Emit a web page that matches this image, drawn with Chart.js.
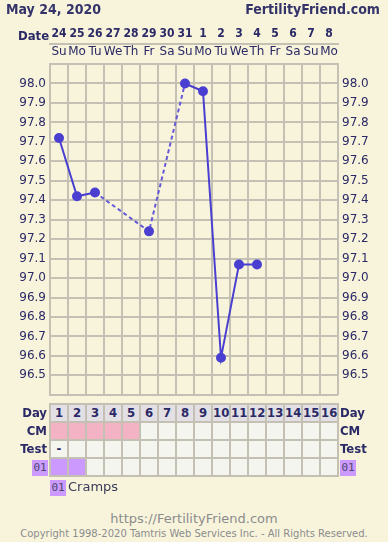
<!DOCTYPE html>
<html>
<head>
<meta charset="utf-8">
<script src="https://cdn.jsdelivr.net/npm/chart.js@4.4.1/dist/chart.umd.min.js"></script>
<style>
  body { margin: 0; background: #f8f4dc; width: 388px; height: 542px; overflow: hidden; position: relative; font-family: 'DejaVu Sans', sans-serif; }
  #myChart { position: absolute; left: 0; top: 0; }
  .hdr { position: absolute; top: 1px; font: bold 14px 'DejaVu Sans Condensed', 'DejaVu Sans', sans-serif; color: #34346a; }
  .lbl { position: absolute; font: bold 13px 'DejaVu Sans Condensed', 'DejaVu Sans', sans-serif; color: #2b2966; line-height: 18px; }
  #grid { position: absolute; left: 49px; top: 403px; background: #c4c0b4; }
  .cell { position: absolute; width: 16px; height: 16px; background: #f5f5ef; text-align: center; line-height: 16px; font: bold 13px 'DejaVu Sans Condensed', 'DejaVu Sans', sans-serif; color: #2b2966; }
  .code { position: absolute; background: #cc99ff; width: 16px; height: 16px; font: 11px 'DejaVu Sans Mono', monospace; color: #4a4a6a; text-align: center; line-height: 16px; }
  .foot { position: absolute; left: 0; width: 388px; text-align: center; color: #8c8c8c; }
</style>
</head>
<body>
<canvas id="myChart" width="388" height="406"></canvas>
<div class="hdr" style="left:6px">May 24, 2020</div>
<div class="hdr" style="right:8px">FertilityFriend.com</div>
<div class="lbl" style="left:18px; top:27px">Date</div>
<div id="grid"></div>
<div class="foot" style="top:511px; font-size:13px">https://FertilityFriend.com</div>
<div class="foot" style="top:528px; font-size:10px">Copyright 1998-2020 Tamtris Web Services Inc. - All Rights Reserved.</div>
<script>
// fechas y dias de la semana
var fechas = ['24', '25', '26', '27', '28', '29', '30', '31', '1', '2', '3', '4', '5', '6', '7', '8'];
var dias_semana = ['Su', 'Mo', 'Tu', 'We', 'Th', 'Fr', 'Sa', 'Su', 'Mo', 'Tu', 'We', 'Th', 'Fr', 'Sa', 'Su', 'Mo'];
var temperaturas = [97.72, 97.42, 97.44, null, null, 97.24, null, 98.00, 97.96, 96.59, 97.07, 97.07, null, null, null, null];
var dias_ciclo = ['1', '2', '3', '4', '5', '6', '7', '8', '9', '10', '11', '12', '13', '14', '15', '16'];
var ticks_temp = [98.1, 98.0, 97.9, 97.8, 97.7, 97.6, 97.5, 97.4, 97.3, 97.2, 97.1, 97.0, 96.9, 96.8, 96.7, 96.6, 96.5, 96.4];
var fila_cm = ['period', 'period', 'period', 'period', 'period', '', '', '', '', '', '', '', '', '', '', ''];
var fila_test = ['-', '', '', '', '', '', '', '', '', '', '', '', '', '', '', ''];
var fila_sintoma = ['01', '01', '', '', '', '', '', '', '', '', '', '', '', '', '', ''];
var sintomas = [{ codigo: '01', nombre: 'Cramps' }];

var colorGrid = '#c4c0b4';
var colorTexto = '#2b2966';

window.onload = function() {
    // tabla de abajo
    var grid = document.getElementById('grid');
    var filas = ['Day', 'CM', 'Test', sintomas[0].codigo];
    grid.style.width = (dias_ciclo.length * 18 + 2) + 'px';
    grid.style.height = (filas.length * 18 + 2) + 'px';
    for (var r = 0; r < filas.length; r++) {
        for (var c = 0; c < dias_ciclo.length; c++) {
            var cell = document.createElement('div');
            cell.className = 'cell';
            cell.style.left = (2 + c * 18) + 'px';
            cell.style.top = (2 + r * 18) + 'px';
            if (r == 0) {
                cell.style.background = '#e2e0e4';
                cell.textContent = dias_ciclo[c];
            } else if (r == 1) {
                if (fila_cm[c] == 'period') cell.style.background = '#f3b3c5';
            } else if (r == 2) {
                cell.textContent = fila_test[c];
            } else if (r == 3) {
                if (fila_sintoma[c]) cell.style.background = '#cc99ff';
            }
            grid.appendChild(cell);
        }
        var top = 405 + r * 18;
        if (r < 3) {
            var izq = document.createElement('div');
            izq.className = 'lbl';
            izq.textContent = filas[r];
            izq.style.right = (388 - 47) + 'px';
            izq.style.top = (top - 1) + 'px';
            document.body.appendChild(izq);
            var der = document.createElement('div');
            der.className = 'lbl';
            der.textContent = filas[r];
            der.style.left = '340px';
            der.style.top = (top - 1) + 'px';
            document.body.appendChild(der);
        } else {
            var b1 = document.createElement('div');
            b1.className = 'code';
            b1.textContent = filas[r];
            b1.style.left = '32px';
            b1.style.top = (top + 1) + 'px';
            document.body.appendChild(b1);
            var b2 = document.createElement('div');
            b2.className = 'code';
            b2.textContent = filas[r];
            b2.style.left = '340px';
            b2.style.top = (top + 1) + 'px';
            document.body.appendChild(b2);
        }
    }
    // leyenda
    var ley = document.createElement('div');
    ley.className = 'code';
    ley.textContent = sintomas[0].codigo;
    ley.style.left = '50px';
    ley.style.top = '480px';
    document.body.appendChild(ley);
    var ley2 = document.createElement('div');
    ley2.style.cssText = 'position:absolute;left:68px;top:479px;font:13px "DejaVu Sans",sans-serif;color:#3a3a5a';
    ley2.textContent = sintomas[0].nombre;
    document.body.appendChild(ley2);

    // tramo con huecos = linea punteada
    function saltado(s, valor) {
        return (s.p0.skip || s.p1.skip) ? valor : undefined;
    }

    var ctx = document.getElementById('myChart').getContext('2d');
    var myChart = new Chart(ctx, {
        type: 'line',
        data: {
            labels: fechas,
            datasets: [{
                data: temperaturas,
                xAxisID: 'x',
                yAxisID: 'y',
                borderColor: '#4a3fd0',
                backgroundColor: '#4a3fd0',
                borderWidth: 2,
                pointRadius: 4,
                pointHoverRadius: 4,
                spanGaps: true,
                segment: {
                    borderDash: function(s) { return saltado(s, [4, 3]); },
                    borderColor: function(s) { return saltado(s, '#6659d8'); }
                }
            }]
        },
        options: {
            responsive: false,
            animation: false,
            devicePixelRatio: 1,
            layout: { padding: { top: 22, left: 0, right: 0, bottom: 1 } },
            plugins: { legend: { display: false }, tooltip: { enabled: false } },
            scales: {
                x: {
                    type: 'category',
                    position: 'top',
                    weight: 2,
                    offset: true,
                    grid: { offset: true, color: colorGrid, lineWidth: 2, drawTicks: false },
                    border: { display: true, color: colorGrid, width: 2 },
                    ticks: { padding: 3, maxRotation: 0, autoSkip: false, color: colorTexto, font: { family: "'DejaVu Sans Condensed', 'DejaVu Sans'", size: 12, weight: 'bold' } },
                    afterFit: function(s) { s.height = 22; }
                },
                x2: {
                    type: 'category',
                    position: 'top',
                    weight: 1,
                    offset: true,
                    labels: dias_semana,
                    grid: { display: false, drawTicks: false },
                    border: { display: false },
                    ticks: { padding: 5, maxRotation: 0, autoSkip: false, color: colorTexto, font: { family: "'DejaVu Sans'", size: 12 } },
                    afterFit: function(s) { s.height = 20; }
                },
                y: {
                    position: 'left',
                    min: 96.4,
                    max: 98.1,
                    afterBuildTicks: function(s) { s.ticks = ticks_temp.map(function(v) { return { value: v }; }); },
                    grid: { color: colorGrid, lineWidth: 2, drawTicks: false },
                    border: { display: true, color: colorGrid, width: 2 },
                    ticks: {
                        padding: 4, color: colorTexto, font: { family: "'DejaVu Sans'", size: 12 },
                        callback: function(v) { return (v > 98.05 || v < 96.45) ? '' : v.toFixed(1); }
                    },
                    afterFit: function(s) { s.width = 50; }
                },
                y2: {
                    position: 'right',
                    min: 96.4,
                    max: 98.1,
                    afterBuildTicks: function(s) { s.ticks = ticks_temp.map(function(v) { return { value: v }; }); },
                    grid: { display: false, drawTicks: false },
                    border: { display: true, color: colorGrid, width: 2 },
                    ticks: {
                        padding: 4, color: colorTexto, font: { family: "'DejaVu Sans'", size: 12 },
                        callback: function(v) { return (v > 98.05 || v < 96.45) ? '' : v.toFixed(1); }
                    },
                    afterFit: function(s) { s.width = 50; }
                }
            }
        }
    });
};
</script>
</body>
</html>
